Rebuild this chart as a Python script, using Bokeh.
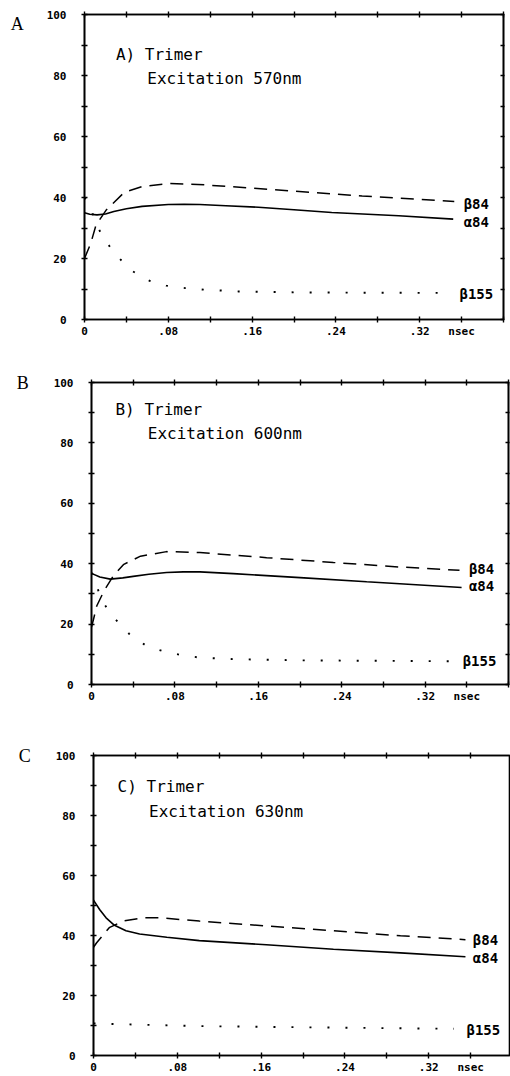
from bokeh.plotting import figure
from bokeh.models import Range1d, FixedTicker, LinearAxis, CustomJSTickFormatter, Label
from bokeh.embed import file_html
from bokeh.resources import INLINE

# ---- data (time in nsec, population in %) ----
x_major = [0, 0.08, 0.16, 0.24, 0.32, 0.36]
x_minor = [0.04, 0.12, 0.20, 0.28, 0.40]
y_major = [0, 20, 40, 60, 80, 100]
y_minor = [10, 30, 50, 70, 90]

# Panel A: excitation 570 nm
tA_a84 = [0, 0.005, 0.012, 0.02, 0.028, 0.04, 0.055, 0.08, 0.095, 0.11, 0.135, 0.166, 0.20, 0.236, 0.30, 0.352]
vA_a84 = [35.0, 34.5, 34.3, 34.6, 35.4, 36.3, 37.1, 37.7, 37.8, 37.7, 37.3, 36.8, 36.0, 35.1, 34.0, 32.9]
tA_b84 = [0, 0.006, 0.011, 0.021, 0.038, 0.055, 0.081, 0.108, 0.155, 0.20, 0.265, 0.353]
vA_b84 = [20.0, 25.0, 31.0, 36.0, 41.7, 43.6, 44.6, 44.3, 43.2, 42.1, 40.5, 38.7]
tA_b155 = [0, 0.004, 0.011, 0.018, 0.03, 0.045, 0.062, 0.078, 0.096, 0.114, 0.147, 0.20, 0.26, 0.352]
vA_b155 = [40.0, 38.4, 31.5, 26.7, 21.2, 16.0, 12.7, 11.1, 10.3, 9.8, 9.2, 8.9, 8.8, 8.7]

# Panel B: excitation 600 nm
tB_a84 = [0, 0.008, 0.018, 0.03, 0.04, 0.055, 0.072, 0.088, 0.104, 0.136, 0.20, 0.264, 0.355]
vB_a84 = [36.8, 35.6, 34.9, 35.3, 35.8, 36.5, 37.1, 37.3, 37.3, 36.7, 35.4, 34.0, 32.1]
tB_b84 = [0, 0.002, 0.005, 0.012, 0.021, 0.031, 0.047, 0.072, 0.104, 0.168, 0.232, 0.296, 0.353]
vB_b84 = [19.0, 21.7, 26.0, 31.0, 36.0, 39.8, 42.5, 44.0, 43.7, 42.0, 40.4, 38.9, 37.8]
tB_b155 = [0, 0.003, 0.007, 0.01, 0.021, 0.036, 0.053, 0.071, 0.087, 0.104, 0.136, 0.20, 0.347]
vB_b155 = [37.0, 35.7, 30.5, 27.7, 22.3, 16.8, 12.7, 10.8, 9.7, 8.9, 8.4, 8.0, 7.7]

# Panel C: excitation 630 nm
tC_a84 = [0, 0.006, 0.012, 0.02, 0.031, 0.044, 0.07, 0.101, 0.165, 0.229, 0.293, 0.355]
vC_a84 = [51.8, 48.6, 45.9, 43.4, 41.6, 40.5, 39.4, 38.3, 36.9, 35.4, 34.2, 32.9]
tC_b84 = [0, 0.003, 0.015, 0.028, 0.047, 0.063, 0.101, 0.165, 0.229, 0.293, 0.355]
vC_b84 = [36.1, 37.6, 42.6, 44.8, 45.9, 45.9, 44.8, 43.2, 41.6, 39.9, 38.6]
tC_b155 = [0, 0.018, 0.101, 0.229, 0.344]
vC_b155 = [10.7, 10.5, 9.8, 9.3, 8.9]

series_names = ["\u03b284", "\u03b184", "\u03b2155"]
panel_letters = ["A", "B", "C"]
panel_titles = ["A) Trimer", "B) Trimer", "C) Trimer"]
panel_subtitles = ["Excitation 570nm", "Excitation 600nm", "Excitation 630nm"]

MONO = "DejaVu Sans Mono"

fmt_code = """
if (tick < 0.005) { return "0"; }
if (tick > 0.35) { return "nsec"; }
return tick.toFixed(2).replace(/^0/, "");
"""


def style_axis(ax, labels=True):
    ax.axis_line_width = 1.6
    ax.axis_line_color = "black"
    ax.major_tick_line_width = 1.4
    ax.minor_tick_line_width = 1.4
    ax.major_tick_line_color = "black"
    ax.minor_tick_line_color = "black"
    ax.major_tick_in = 3
    ax.major_tick_out = 3
    ax.minor_tick_in = 3
    ax.minor_tick_out = 3
    ax.major_label_text_font = MONO
    ax.major_label_text_font_style = "bold"
    ax.major_label_text_color = "black"
    ax.major_label_text_font_size = "11px"
    if not labels:
        ax.formatter = CustomJSTickFormatter(code='return "";')
        ax.major_label_standoff = 0


def make_panel(idx, height, borders, x_end, right_axis, t_sets, v_sets,
               letter_standoff, letter_down, title_pos, sub_pos, name_pos):
    left, right, top, bottom = borders
    p = figure(width=510, height=height, output_backend="svg", toolbar_location=None,
               x_range=Range1d(0, x_end), y_range=Range1d(0, 100),
               min_border=0,
               min_border_left=left, min_border_right=right,
               min_border_top=top, min_border_bottom=bottom,
               background_fill_color="white", border_fill_color="white")
    p.xgrid.visible = False
    p.ygrid.visible = False
    p.outline_line_color = "black"
    p.outline_line_width = 1.6

    p.xaxis.ticker = FixedTicker(ticks=x_major, minor_ticks=x_minor)
    p.yaxis.ticker = FixedTicker(ticks=y_major, minor_ticks=y_minor)
    p.xaxis.formatter = CustomJSTickFormatter(code=fmt_code)
    style_axis(p.xaxis[0])
    style_axis(p.yaxis[0])
    p.xaxis.major_label_standoff = 2
    p.yaxis.major_label_standoff = 15

    # panel letter as a horizontal axis label at the top end of the y axis
    yax = p.yaxis[0]
    yax.axis_label = ("\n" if letter_down else "") + panel_letters[idx]
    yax.axis_label_orientation = "horizontal"
    yax.axis_label_align = "end"
    yax.axis_label_text_font = "Liberation Serif"
    yax.axis_label_text_font_style = "normal"
    yax.axis_label_text_font_size = "18px"
    yax.axis_label_text_line_height = 0.9
    yax.axis_label_text_color = "black"
    yax.axis_label_standoff = letter_standoff

    top_ax = LinearAxis(ticker=FixedTicker(ticks=x_major, minor_ticks=x_minor))
    style_axis(top_ax, labels=False)
    p.add_layout(top_ax, "above")
    if right_axis:
        r_ax = LinearAxis(ticker=FixedTicker(ticks=y_major, minor_ticks=y_minor))
        style_axis(r_ax, labels=False)
        r_ax.major_tick_out = 1
        r_ax.minor_tick_out = 1
        p.add_layout(r_ax, "right")

    (tb, ta, tc) = t_sets
    (vb, va, vc) = v_sets
    p.line(ta, va, line_color="black", line_width=1.6)
    p.line(tb, vb, line_color="black", line_width=1.5, line_dash="13 8")
    p.line(tc, vc, line_color="black", line_width=1.9, line_dash="2 16")

    p.add_layout(Label(x=title_pos[0], y=title_pos[1], text=panel_titles[idx],
                       text_font=MONO, text_font_size="16px",
                       text_align="left", text_baseline="middle", text_color="black"))
    p.add_layout(Label(x=sub_pos[0], y=sub_pos[1], text=panel_subtitles[idx],
                       text_font=MONO, text_font_size="16px",
                       text_align="left", text_baseline="middle", text_color="black"))
    for name, (nx, ny) in zip(series_names, name_pos):
        p.add_layout(Label(x=nx, y=ny, text=name, text_font=MONO, text_font_size="14px",
                           text_font_style="bold", text_align="left",
                           text_baseline="middle", text_color="black"))
    return p


pA = make_panel(0, 340, (84, 7, 14, 19), 0.40, True,
                (tA_b84, tA_a84, tA_b155), (vA_b84, vA_a84, vA_b155),
                20, True, (0.030, 87.0), (0.060, 79.0),
                [(0.362, 37.8), (0.362, 31.9), (0.358, 8.5)])
pB = make_panel(1, 365, (91, 2, 42, 19), 0.40, True,
                (tB_b84, tB_a84, tB_b155), (vB_b84, vB_a84, vB_b155),
                22, False, (0.023, 91.0), (0.054, 83.2),
                [(0.362, 38.2), (0.362, 32.6), (0.356, 7.9)])
pC = make_panel(2, 371, (93, 0, 50, 13), 0.398, False,
                (tC_b84, tC_a84, tC_b155), (vC_b84, vC_a84, vC_b155),
                22, False, (0.023, 89.6), (0.053, 81.5),
                [(0.362, 38.6), (0.362, 32.5), (0.356, 8.4)])

open("out.html", "w").write(file_html([pA, pB, pC], INLINE))
